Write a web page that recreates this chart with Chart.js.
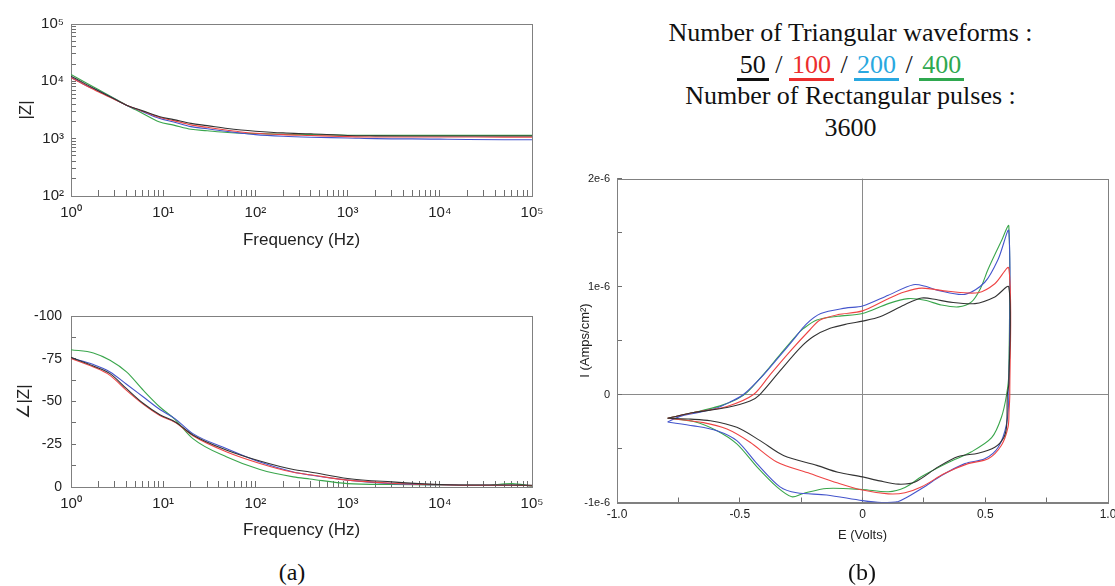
<!DOCTYPE html>
<html>
<head>
<meta charset="utf-8">
<title>EIS and CV</title>
<script src="https://cdn.jsdelivr.net/npm/chart.js@4"></script>
<style>
  html, body { margin: 0; padding: 0; background: #fff; }
  body { position: relative; width: 1115px; height: 586px; overflow: hidden; }
  .box { position: absolute; }
  .note {
    position: absolute; left: 573px; top: 17px; width: 555px; text-align: center;
    font-family: 'Liberation Serif', 'Times New Roman', serif; font-size: 26px; color: #111;
  }
  .note div { height: 31.5px; line-height: 31.5px; white-space: nowrap; }
  .u { display: inline-block; line-height: 25px; padding: 0 3px 1px; border-bottom: 3px solid; }
  .cap {
    position: absolute; top: 560px; width: 100px; text-align: center; line-height: 24px;
    font-family: 'Liberation Serif', 'Times New Roman', serif; font-size: 24px; color: #111;
  }
</style>
</head>
<body>

<div class="box" style="left:0;top:0;width:560px;height:260px"><canvas id="zChart"></canvas></div>
<div class="box" style="left:0;top:290px;width:560px;height:260px"><canvas id="phaseChart"></canvas></div>
<div class="box" style="left:560px;top:160px;width:570px;height:400px"><canvas id="cvChart"></canvas></div>

<div class="note">
  <div>Number of Triangular waveforms :</div>
  <div><span class="u" style="color:#111">50</span> / <span class="u" style="color:#ec2d2d">100</span> / <span class="u" style="color:#29a8e0">200</span> / <span class="u" style="color:#2fa84f">400</span></div>
  <div>Number of Rectangular pulses :</div>
  <div>3600</div>
</div>

<div class="cap" style="left:242px">(a)</div>
<div class="cap" style="left:812px">(b)</div>

<script>
// ---- |Z| vs frequency (Bode magnitude) ----
const zFreq = [1, 1.5, 2, 3, 4, 6, 9, 13, 20, 30, 50, 70, 100, 200, 400, 1000, 2000, 5000, 10000, 20000, 50000, 100000];
const z50  = [12300, 8670, 6800, 4860, 3840, 3055, 2430, 2150, 1850, 1690, 1500, 1415, 1350, 1260, 1215, 1135, 1120, 1115, 1115, 1112, 1110, 1110];
const z100 = [11600, 8220, 6500, 4780, 3840, 3020, 2370, 2065, 1740, 1580, 1405, 1310, 1245, 1175, 1135, 1085, 1070, 1070, 1070, 1068, 1065, 1065];
const z200 = [11750, 8300, 6800, 4860, 3840, 2950, 2265, 1950, 1620, 1486, 1333, 1250, 1175, 1100, 1060, 1030, 1000, 990, 980, 970, 960, 955];
const z400 = [13200, 9200, 7110, 4950, 3840, 2760, 1970, 1725, 1460, 1375, 1280, 1240, 1230, 1190, 1175, 1150, 1140, 1140, 1140, 1140, 1140, 1140];

// ---- phase vs frequency (degrees) ----
const phFreq = [1, 1.75, 2.65, 4, 6.1, 9.2, 13.4, 21, 49, 112, 258, 390, 1000, 3000, 10000, 30000, 60000, 100000];
const ph50  = [-75.8, -70.8, -66.3, -57.5, -48.8, -42.3, -38.2, -30.4, -21.5, -15.2, -10.2, -8.8, -5.0, -3.0, -1.5, -1.2, -1.2, -1.0];
const ph100 = [-75.2, -70.2, -65.3, -56.5, -48.3, -41.8, -37.9, -30.0, -20.5, -13.8, -8.6, -7.2, -4.0, -2.2, -1.3, -1.0, -1.0, -0.8];
const ph200 = [-75.5, -71.6, -67.3, -60.1, -52.6, -45.3, -40.0, -31.2, -22.4, -14.6, -8.8, -7.0, -4.0, -2.0, -1.3, -1.0, -1.0, -0.8];
const ph400 = [-80.3, -78.4, -74.1, -67.3, -56.5, -46.8, -39.6, -28.3, -17.5, -10.2, -5.9, -4.7, -2.0, -1.5, -1.2, -1.0, -2.0, -0.5];

// ---- cyclic voltammograms: E in volts, I in units of 1e-6 A/cm2 ----
const cv50E = [-0.794, -0.688, -0.552, -0.458, -0.418, -0.337, -0.255, -0.2, -0.132, -0.06, 0, 0.071, 0.17, 0.241, 0.3, 0.349, 0.458, 0.539, 0.596,
  0.596, 0.59, 0.587, 0.575, 0.539, 0.471, 0.39, 0.308, 0.214, 0.146, 0.07, 0, -0.1, -0.186, -0.322, -0.417, -0.512, -0.62, -0.7, -0.794];
const cv50I = [-0.22, -0.167, -0.12, -0.06, 0, 0.216, 0.43, 0.537, 0.613, 0.655, 0.68, 0.72, 0.83, 0.894, 0.88, 0.858, 0.842, 0.904, 0.995,
  0.1, 0, -0.29, -0.4, -0.488, -0.543, -0.573, -0.67, -0.81, -0.83, -0.8, -0.763, -0.72, -0.656, -0.564, -0.427, -0.304, -0.243, -0.228, -0.22];

const cv100E = [-0.794, -0.688, -0.552, -0.444, -0.376, -0.295, -0.214, -0.173, -0.1, 0, 0.105, 0.17, 0.241, 0.349, 0.471, 0.539, 0.596,
  0.6, 0.597, 0.593, 0.566, 0.512, 0.43, 0.336, 0.241, 0.173, 0.105, 0, -0.1, -0.214, -0.349, -0.458, -0.552, -0.648, -0.794];
const cv100I = [-0.22, -0.167, -0.11, 0, 0.185, 0.4, 0.6, 0.69, 0.74, 0.775, 0.888, 0.95, 0.986, 0.956, 0.943, 1.026, 1.17,
  0, -0.15, -0.3, -0.47, -0.595, -0.64, -0.73, -0.855, -0.91, -0.92, -0.885, -0.82, -0.732, -0.625, -0.442, -0.32, -0.26, -0.22];

const cv200E = [-0.794, -0.74, -0.688, -0.6, -0.54, -0.485, -0.404, -0.336, -0.282, -0.23, -0.17, -0.07, 0, 0.105, 0.207, 0.26, 0.308, 0.417, 0.498, 0.553, 0.596,
  0.596, 0.587, 0.553, 0.498, 0.417, 0.322, 0.241, 0.146, 0.078, 0, -0.146, -0.268, -0.336, -0.43, -0.512, -0.593, -0.688, -0.794];
const cv200I = [-0.255, -0.2, -0.175, -0.13, -0.07, 0, 0.18, 0.36, 0.506, 0.65, 0.75, 0.8, 0.82, 0.92, 1.017, 1.0, 0.965, 0.928, 1.04, 1.255, 1.515,
  0, -0.27, -0.488, -0.595, -0.64, -0.75, -0.87, -0.99, -1.0, -0.983, -0.93, -0.91, -0.855, -0.64, -0.427, -0.335, -0.29, -0.255];

const cv400E = [-0.794, -0.688, -0.58, -0.512, -0.47, -0.404, -0.336, -0.268, -0.241, -0.186, -0.1, 0, 0.105, 0.186, 0.254, 0.32, 0.39, 0.444, 0.48, 0.512, 0.566, 0.596,
  0.596, 0.587, 0.566, 0.526, 0.444, 0.349, 0.241, 0.173, 0.105, 0, -0.146, -0.241, -0.288, -0.349, -0.43, -0.512, -0.593, -0.688, -0.794];
const cv400I = [-0.22, -0.167, -0.105, -0.044, 0.02, 0.185, 0.37, 0.55, 0.61, 0.69, 0.725, 0.75, 0.842, 0.888, 0.873, 0.83, 0.812, 0.858, 0.98, 1.163, 1.424, 1.56,
  0.2, 0, -0.21, -0.4, -0.53, -0.63, -0.76, -0.86, -0.9, -0.88, -0.87, -0.916, -0.947, -0.855, -0.67, -0.457, -0.335, -0.25, -0.22];

const COLORS = { c50: '#333333', c100: '#ee4444', c200: '#4455cc', c400: '#3aa64c' };
const AXIS_GREY = '#808080';
const TICK_GREY = '#6e6e6e';
const LABEL_COLOR = '#222';
const SANS = "'Liberation Sans', Arial, Helvetica, sans-serif";
const SUP = ['\u2070', '\u00b9', '\u00b2', '\u00b3', '\u2074', '\u2075'];

// grey box round the plot area
const framePlugin = {
  id: 'frame',
  beforeDatasetsDraw(chart) {
    const { ctx, chartArea: a } = chart;
    ctx.save();
    ctx.strokeStyle = AXIS_GREY;
    ctx.lineWidth = 1;
    ctx.strokeRect(Math.round(a.left) + 0.5, Math.round(a.top) + 0.5,
      Math.round(a.right) - Math.round(a.left), Math.round(a.bottom) - Math.round(a.top));
    ctx.restore();
  }
};

function pairs(xs, ys) {
  return xs.map((x, i) => ({ x, y: ys[i] }));
}

function series(label, xs, ys, color, extra) {
  return Object.assign({
    label,
    data: pairs(xs, ys),
    borderColor: color,
    backgroundColor: color,
    borderWidth: 1.1,
    pointRadius: 0,
    fill: false
  }, extra || {});
}

// 1..9 x 10^n tick positions
function decadeTicks(fromExp, toExp) {
  const out = [];
  for (let e = fromExp; e < toExp; e++) {
    for (let m = 1; m < 10; m++) out.push(m * Math.pow(10, e));
  }
  out.push(Math.pow(10, toExp));
  return out.map(value => ({ value }));
}

function powerLabel(v) {
  const e = Math.log10(v);
  const r = Math.round(e);
  return Math.abs(e - r) < 1e-9 ? '10' + SUP[r] : '';
}

function freqAxis(axisHeight) {
  return {
    type: 'logarithmic',
    position: 'bottom',
    min: 1,
    max: 100000,
    afterBuildTicks: s => { s.ticks = decadeTicks(0, 5); },
    afterFit: s => { s.height = axisHeight; },
    border: { display: true, color: AXIS_GREY },
    grid: { drawOnChartArea: false, drawTicks: true, tickLength: -6, tickColor: TICK_GREY },
    ticks: {
      autoSkip: false, maxRotation: 0, padding: 14, color: LABEL_COLOR,
      font: { family: SANS, size: 15 }, callback: powerLabel
    },
    title: {
      display: true, text: 'Frequency (Hz)', color: LABEL_COLOR,
      font: { family: SANS, size: 17 }, padding: { top: 0, bottom: 9 }
    }
  };
}

function renderImpedanceChart() {
  const extra = { cubicInterpolationMode: 'monotone' };
  new Chart(document.getElementById('zChart'), {
    type: 'line',
    data: {
      datasets: [
        series('50', zFreq, z50, COLORS.c50, extra),
        series('100', zFreq, z100, COLORS.c100, extra),
        series('200', zFreq, z200, COLORS.c200, extra),
        series('400', zFreq, z400, COLORS.c400, extra)
      ]
    },
    options: {
      responsive: true,
      maintainAspectRatio: false,
      animation: false,
      layout: { padding: { top: 24, right: 28, left: 0, bottom: 0 } },
      plugins: { legend: { display: false }, tooltip: { enabled: false } },
      scales: {
        x: freqAxis(64),
        y: {
          type: 'logarithmic',
          min: 100,
          max: 100000,
          afterBuildTicks: s => { s.ticks = decadeTicks(2, 5); },
          afterFit: s => { s.width = 71; },
          border: { display: true, color: AXIS_GREY },
          grid: { drawOnChartArea: false, drawTicks: true, tickLength: -5, tickColor: TICK_GREY },
          ticks: {
            autoSkip: false, padding: 12, color: LABEL_COLOR,
            font: { family: SANS, size: 15 }, callback: powerLabel
          },
          title: {
            display: true, text: '|Z|', color: LABEL_COLOR,
            font: { family: SANS, size: 17 }, padding: { top: 16, bottom: 0 }
          }
        }
      }
    },
    plugins: [framePlugin]
  });
}

function renderPhaseChart() {
  const extra = { cubicInterpolationMode: 'monotone' };
  new Chart(document.getElementById('phaseChart'), {
    type: 'line',
    data: {
      datasets: [
        series('50', phFreq, ph50, COLORS.c50, extra),
        series('100', phFreq, ph100, COLORS.c100, extra),
        series('200', phFreq, ph200, COLORS.c200, extra),
        series('400', phFreq, ph400, COLORS.c400, extra)
      ]
    },
    options: {
      responsive: true,
      maintainAspectRatio: false,
      animation: false,
      layout: { padding: { top: 26, right: 28, left: 0, bottom: 0 } },
      plugins: { legend: { display: false }, tooltip: { enabled: false } },
      scales: {
        x: freqAxis(63),
        y: {
          type: 'linear',
          min: -100,
          max: 0,
          reverse: true,
          afterFit: s => { s.width = 71; },
          border: { display: true, color: AXIS_GREY },
          grid: { drawOnChartArea: false, drawTicks: true, tickLength: -5, tickColor: TICK_GREY },
          ticks: {
            autoSkip: false, stepSize: 12.5, padding: 14, color: LABEL_COLOR,
            font: { family: SANS, size: 14 },
            callback: v => (v % 25 === 0 ? String(v) : '')
          },
          title: {
            display: true, text: '\u2220|Z|', color: LABEL_COLOR,
            font: { family: SANS, size: 17 }, padding: { top: 14, bottom: 0 }
          }
        }
      }
    },
    plugins: [framePlugin]
  });
}

function renderCvChart() {
  const extra = { tension: 0.3 };
  const zeroLine = c => (c.tick && c.tick.value === 0 ? '#8a8a8a' : 'rgba(0,0,0,0)');
  new Chart(document.getElementById('cvChart'), {
    type: 'line',
    data: {
      datasets: [
        series('50', cv50E, cv50I, COLORS.c50, extra),
        series('100', cv100E, cv100I, COLORS.c100, extra),
        series('200', cv200E, cv200I, COLORS.c200, extra),
        series('400', cv400E, cv400I, COLORS.c400, extra)
      ]
    },
    options: {
      responsive: true,
      maintainAspectRatio: false,
      animation: false,
      layout: { padding: { top: 15.5, right: 22, left: 0, bottom: 0 } },
      plugins: { legend: { display: false }, tooltip: { enabled: false } },
      scales: {
        x: {
          type: 'linear',
          min: -1,
          max: 1,
          afterFit: s => { s.height = 57.5; },
          border: { display: true, color: AXIS_GREY },
          grid: { color: zeroLine, drawTicks: true, tickLength: -5, tickColor: TICK_GREY },
          ticks: {
            autoSkip: false, stepSize: 0.25, maxRotation: 0, padding: 10, color: LABEL_COLOR,
            font: { family: SANS, size: 12 },
            callback: v => (Number.isInteger(v * 2) ? (v === 0 ? '0' : v.toFixed(1)) : '')
          },
          title: {
            display: true, text: 'E (Volts)', color: LABEL_COLOR,
            font: { family: SANS, size: 13 }, padding: { top: 0, bottom: 17 }
          }
        },
        y: {
          type: 'linear',
          min: -1,
          max: 2,
          afterFit: s => { s.width = 57; },
          border: { display: true, color: AXIS_GREY },
          grid: { color: zeroLine, drawTicks: true, tickLength: -5, tickColor: TICK_GREY },
          ticks: {
            autoSkip: false, stepSize: 0.5, padding: 12, color: LABEL_COLOR,
            font: { family: SANS, size: 11 },
            callback: v => (Number.isInteger(v) ? (v === 0 ? '0' : v + 'e-6') : '')
          },
          title: {
            display: true, text: 'I (Amps/cm\u00b2)', color: LABEL_COLOR,
            font: { family: SANS, size: 13 }, padding: { top: 18, bottom: 0 }
          }
        }
      }
    },
    plugins: [framePlugin]
  });
}

renderImpedanceChart();
renderPhaseChart();
renderCvChart();
</script>
</body>
</html>
